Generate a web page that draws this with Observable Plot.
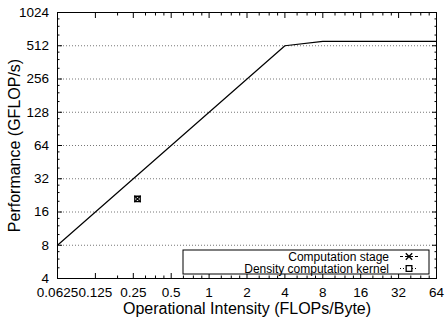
<!DOCTYPE html>
<html><head><meta charset="utf-8">
<script src="https://cdn.jsdelivr.net/npm/d3@7"></script>
<script src="https://cdn.jsdelivr.net/npm/@observablehq/plot@0.6"></script>
<style>body{margin:0;background:#fff} svg{display:block}</style>
</head><body><div id="chart"></div>
<script>
const xTicks = [0.0625, 0.125, 0.25, 0.5, 1, 2, 4, 8, 16, 32, 64];
const xTickLabels = ["0.0625", "0.125", "0.25", "0.5", "1", "2", "4", "8", "16", "32", "64"];
const yTicks = [4, 8, 16, 32, 64, 128, 256, 512, 1024];
const yTickLabels = ["4", "8", "16", "32", "64", "128", "256", "512", "1024"];
const yGrid = [8, 16, 32, 64, 128, 256, 512];
const rooflineX = [0.0625, 4, 8, 64];
const rooflineY = [8, 512, 560, 560];
const seriesNames = ["Computation stage", "Density computation kernel"];
const seriesX = [0.27, 0.27];
const seriesY = [21, 21];
const seriesSymbols = ["times", "square"];
const minorFactors = [1.25, 1.5, 1.75];
const xMinor = [0.1875, ...[0.25, 0.5, 1, 2, 4, 8, 16, 32].flatMap(b => minorFactors.map(f => b * f))];
const yMinor = yTicks.slice(0, -1).flatMap(b => minorFactors.map(f => b * f));

const roof = rooflineX.map((x, i) => ({x, y: rooflineY[i]}));
const pts = seriesNames.map((name, i) => ({name, x: seriesX[i], y: seriesY[i], symbol: seriesSymbols[i]}));
const FONT = "'Liberation Sans', Arial, Helvetica, sans-serif";

const chart = Plot.plot({
  width: 446, height: 327,
  marginLeft: 57, marginRight: 10, marginTop: 12, marginBottom: 49,
  style: {fontFamily: FONT, fontSize: "13.5px", color: "black", background: "white"},
  x: {type: "log", base: 2, domain: [0.0625, 64], label: null},
  y: {type: "log", base: 2, domain: [4, 1024], label: null},
  marks: [
    Plot.ruleY(yGrid, {stroke: "#777", strokeWidth: 1, strokeDasharray: "1,2"}),
    Plot.axisX(xTicks, {anchor: "bottom", tickSize: -5, tickFormat: () => ""}),
    Plot.axisX(xTicks, {anchor: "top", tickSize: -5, tickFormat: () => ""}),
    Plot.axisX(xMinor, {anchor: "bottom", tickSize: -2.5, tickFormat: () => ""}),
    Plot.axisX(xMinor, {anchor: "top", tickSize: -2.5, tickFormat: () => ""}),
    Plot.axisY(yTicks, {anchor: "left", tickSize: -5, tickFormat: () => ""}),
    Plot.axisY(yTicks, {anchor: "right", tickSize: -5, tickFormat: () => ""}),
    Plot.axisY(yMinor, {anchor: "left", tickSize: -2.5, tickFormat: () => ""}),
    Plot.axisY(yMinor, {anchor: "right", tickSize: -2.5, tickFormat: () => ""}),
    Plot.axisX(xTicks, {anchor: "bottom", tickSize: 0, tickPadding: 9, tickFormat: d => xTickLabels[xTicks.indexOf(d)], fill: "black"}),
    Plot.axisY(yTicks, {anchor: "left", tickSize: 0, tickPadding: 8.5, tickFormat: d => yTickLabels[yTicks.indexOf(d)], fill: "black"}),
    Plot.line(roof, {x: "x", y: "y", stroke: "black", strokeWidth: 1.2}),
    Plot.dot(pts, {x: "x", y: "y", symbol: "symbol", r: d => d.symbol === "square" ? 3.2 : 3, stroke: "black", strokeWidth: 1.3, fill: "none"}),
    Plot.frame({stroke: "black", strokeWidth: 1}),
    Plot.text(["Operational Intensity (FLOPs/Byte)"], {text: d => d, frameAnchor: "bottom", dy: 30, lineAnchor: "middle", textAnchor: "middle", fontSize: 16, fill: "black"}),
    Plot.text(["Performance (GFLOP/s)"], {text: d => d, frameAnchor: "left", dx: -43, rotate: -90, textAnchor: "middle", lineAnchor: "middle", fontSize: 16, fill: "black"})
  ]
});

// legend box inside plot (bottom-right)
const svg = d3.select(chart);
const lg = svg.append("g").attr("font-family", FONT).attr("font-size", 12);
lg.append("rect").attr("x", 183).attr("y", 250).attr("width", 246).attr("height", 24)
  .attr("fill", "white").attr("stroke", "black").attr("stroke-width", 1);
const dashes = ["3,2", "1,2"];
seriesNames.forEach((name, i) => {
  const cy = 256.5 + i * 12;
  lg.append("text").attr("x", 389).attr("y", cy).attr("dy", "0.35em").attr("text-anchor", "end").attr("fill", "black").text(name);
  lg.append("line").attr("x1", 400).attr("x2", 418).attr("y1", cy).attr("y2", cy)
    .attr("stroke", "black").attr("stroke-width", 1).attr("stroke-dasharray", dashes[i]);
  const sym = d3.symbol(seriesSymbols[i] === "square" ? d3.symbolSquare : d3.symbolTimes, (seriesSymbols[i] === "square" ? 3.2 : 3) ** 2 * Math.PI);
  lg.append("path").attr("d", sym()).attr("transform", `translate(409,${cy})`)
    .attr("fill", seriesSymbols[i] === "square" ? "white" : "none").attr("stroke", "black").attr("stroke-width", 1.3);
});

document.getElementById("chart").appendChild(chart);
</script>
</body></html>
